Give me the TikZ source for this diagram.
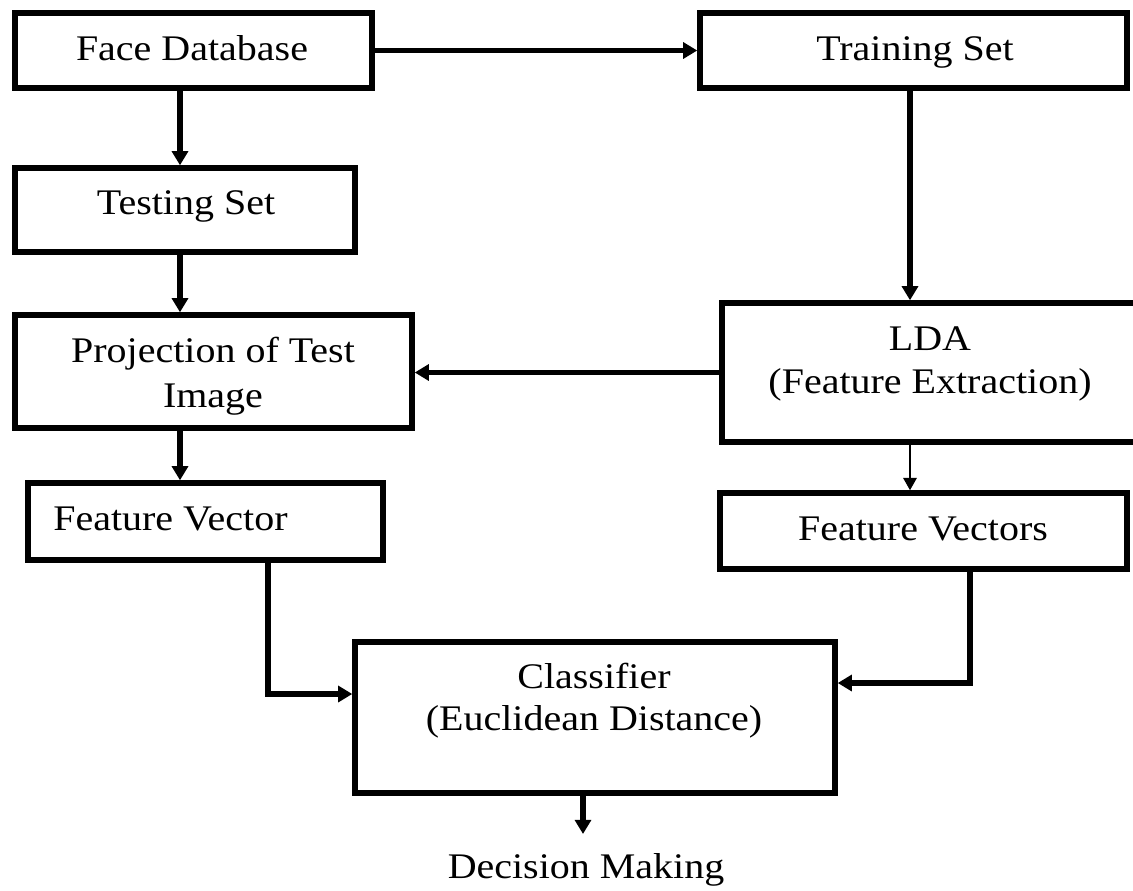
\documentclass[tikz,border=0pt]{standalone}
\usepackage{fontspec}
\setmainfont{Liberation Serif}
\usetikzlibrary{arrows.meta}
\newcommand{\sx}[1]{\scalebox{1.11}[1]{#1}}
\tikzset{
  box/.style={draw=black, line width=3.1pt, rectangle, inner sep=0pt, fill=white},
  txt/.style={inner sep=0pt, anchor=base, font=\fontsize{20.5}{24}\selectfont},
  arr/.style={line width=3.1pt, -{Triangle[length=8pt,width=9pt]}},
  thinarr/.style={line width=1.3pt, -{Triangle[length=7pt,width=7.5pt]}},
  wire/.style={line width=3.1pt}
}
\begin{document}
\begin{tikzpicture}[x=0.02cm, y=-0.02cm]
\useasboundingbox (0,0) rectangle (1133,890);
% boxes
\node[box, minimum width=357*0.02cm, minimum height=75*0.02cm] (fdb) at (193.5,50.5) {};
\node[box, minimum width=340*0.02cm, minimum height=84*0.02cm] (tst) at (185,210) {};
\node[box, minimum width=427*0.02cm, minimum height=75*0.02cm] (trs) at (913.5,50.5) {};
\node[box, minimum width=397*0.02cm, minimum height=113*0.02cm] (proj) at (213.5,371.5) {};
\node[box, minimum width=423*0.02cm, minimum height=139*0.02cm] (lda) at (933.5,372.5) {};
\node[box, minimum width=355*0.02cm, minimum height=77*0.02cm] (fv) at (205.5,521.5) {};
\node[box, minimum width=407*0.02cm, minimum height=76*0.02cm] (fvs) at (923.5,531) {};
\node[box, minimum width=480*0.02cm, minimum height=151*0.02cm] (clf) at (595,717.5) {};
% texts
\node[txt] (fdbt) at (192,60) {\sx{Face Database}};
\node[txt] (tstt) at (186,214) {\sx{Testing Set}};
\node[txt] (trst) at (915,60) {\sx{Training Set}};
\node[txt] (projt1) at (213,362) {\sx{Projection of Test}};
\node[txt] (projt2) at (213,407) {\sx{Image}};
\node[txt] (ldat1) at (930,350) {\sx{LDA}};
\node[txt] (ldat2) at (930,393) {\sx{(Feature Extraction)}};
\node[txt, anchor=base west] (fvt) at (53,530) {\sx{Feature Vector}};
\node[txt] (fvst) at (923,540) {\sx{Feature Vectors}};
\node[txt] (clft1) at (594,688) {\sx{Classifier}};
\node[txt] (clft2) at (594,730) {\sx{(Euclidean Distance)}};
\node[txt] (dm) at (586,878) {\sx{Decision Making}};
% helper coordinates
\coordinate (cL) at (180,0);
\coordinate (cR) at (910,0);
\coordinate (c3) at (268,694);
\coordinate (c4) at (970,683);
\coordinate (c5) at (583,0);
\coordinate (c6) at (583,834);
% connectors
\draw[arr] (fdb.east) -- (trs.west);
\draw[arr] (fdb.south -| cL) -- (tst.north -| cL);
\draw[arr] (tst.south -| cL) -- (proj.north -| cL);
\draw[arr] (proj.south -| cL) -- (fv.north -| cL);
\draw[arr] (trs.south -| cR) -- (lda.north -| cR);
\draw[thinarr] (lda.south -| cR) -- (fvs.north -| cR);
\draw[arr] (lda.west) -- (lda.west -| proj.east);
\draw[arr] (fv.south -| c3) -- (c3) -- (c3 -| clf.west);
\draw[arr] (fvs.south -| c4) -- (c4) -- (c4 -| clf.east);
\draw[arr] (clf.south -| c5) -- (c6);
\end{tikzpicture}
\end{document}
